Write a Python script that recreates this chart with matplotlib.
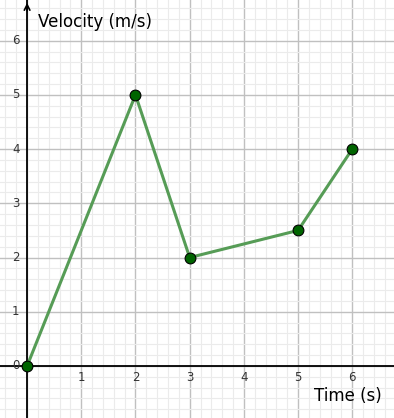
import numpy as np
import matplotlib.pyplot as plt
from matplotlib.ticker import MultipleLocator

# Data
time_s = [0, 2, 3, 5, 6]
velocity = [0, 5, 2, 2.5, 4]
x_ticks = [1, 2, 3, 4, 5, 6]
y_ticks = [0, 1, 2, 3, 4, 5, 6]

fig = plt.figure(figsize=(3.94, 4.18), dpi=100)
ax = fig.add_axes([0, 0, 1, 1])

ax.set_xlim(-0.5, 6.77)
ax.set_ylim(-0.96, 6.75)

# grid
ax.xaxis.set_major_locator(MultipleLocator(1))
ax.yaxis.set_major_locator(MultipleLocator(1))
ax.xaxis.set_minor_locator(MultipleLocator(0.2))
ax.yaxis.set_minor_locator(MultipleLocator(0.2))
ax.grid(which='minor', color='#ebebeb', lw=0.8)
ax.grid(which='major', color='#c0c0c0', lw=1.0)
ax.set_axisbelow(True)
ax.tick_params(which='both', length=0, labelbottom=False, labelleft=False)
for s in ax.spines.values():
    s.set_visible(False)

# axes lines
ax.axhline(0, color='black', lw=1.3, zorder=2)
ax.axvline(0, color='black', lw=1.3, zorder=2)
ax.annotate('', xy=(0, 6.75), xytext=(0, 6.5),
            arrowprops=dict(arrowstyle='->', color='black', lw=1.2))

# tick labels
for x in x_ticks:
    ax.text(x, -0.22, str(x), ha='center', va='center', fontsize=8.5, color='#333333')
for y in y_ticks:
    ax.text(-0.14, y, str(y), ha='right', va='center', fontsize=8.5, color='#333333')

ax.text(0.2, 6.35, 'Velocity (m/s)', fontsize=12, ha='left', va='center')
ax.text(6.55, -0.55, 'Time (s)', fontsize=12, ha='right', va='center')

ax.plot(time_s, velocity, color='#569c56', lw=2.2, zorder=3)
ax.scatter(time_s, velocity, s=60, color='#006400', edgecolor='black',
           linewidth=0.8, zorder=4, clip_on=False)

fig.savefig('out.png', dpi=100)
